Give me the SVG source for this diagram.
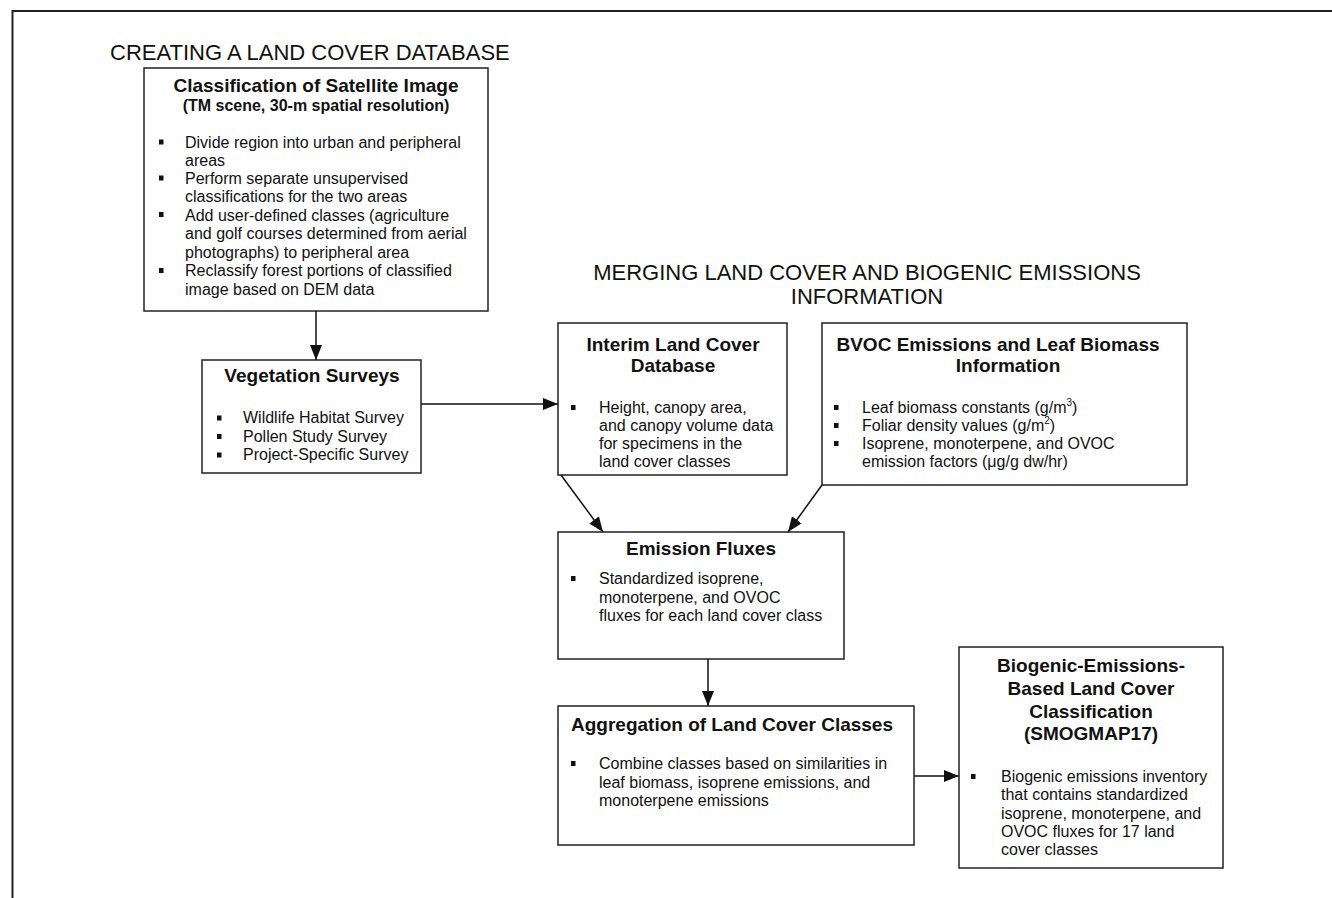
<svg xmlns="http://www.w3.org/2000/svg" width="1332" height="898" viewBox="0 0 1332 898">
<style>
text{font-family:"Liberation Sans",Arial,Helvetica,sans-serif;fill:#111}
.t{font-size:22px}
.h{font-size:19px;font-weight:bold}
.s{font-size:16px;font-weight:bold}
.b{font-size:16px}
.box{fill:#fff;stroke:#222;stroke-width:1.5}
.bl{fill:#111}
.c{stroke:#111;stroke-width:1.5;fill:none}
</style>
<defs>
<marker id="ah" markerUnits="userSpaceOnUse" markerWidth="15" markerHeight="12" viewBox="0 0 15 12" refX="15" refY="6" orient="auto">
<path d="M0,0 L15,6 L0,12 Z" fill="#111"/>
</marker>
</defs>
<rect width="1332" height="898" fill="#fff"/>
<g id="frame">
<path d="M12.5,898 L12.5,11 L1332,11" fill="none" stroke="#222" stroke-width="2"/>
</g>
<g id="titles">
<text class="t" x="110" y="60">CREATING A LAND COVER DATABASE</text>
<text class="t" x="867" y="280" text-anchor="middle">MERGING LAND COVER AND BIOGENIC EMISSIONS</text>
<text class="t" x="867" y="304" text-anchor="middle">INFORMATION</text>
</g>
<g id="classification">
<rect class="box" x="144" y="68" width="344" height="243"/>
<text class="h" x="316" y="92" text-anchor="middle">Classification of Satellite Image</text>
<text class="s" x="316" y="111" text-anchor="middle">(TM scene, 30-m spatial resolution)</text>
<rect class="bl" x="159" y="139.5" width="4.5" height="5"/>
<rect class="bl" x="159" y="175.5" width="4.5" height="5"/>
<rect class="bl" x="159" y="212" width="4.5" height="5"/>
<rect class="bl" x="159" y="268" width="4.5" height="5"/>
<text class="b"><tspan x="185" y="147.7">Divide region into urban and peripheral</tspan><tspan x="185" y="166">areas</tspan><tspan x="185" y="184">Perform separate unsupervised</tspan><tspan x="185" y="202.3">classifications for the two areas</tspan><tspan x="185" y="220.6">Add user-defined classes (agriculture</tspan><tspan x="185" y="239">and golf courses determined from aerial</tspan><tspan x="185" y="257.5">photographs) to peripheral area</tspan><tspan x="185" y="276">Reclassify forest portions of classified</tspan><tspan x="185" y="294.5">image based on DEM data</tspan></text>
</g>
<g id="vegetation">
<rect class="box" x="202" y="360" width="219" height="113"/>
<text class="h" x="312" y="382" text-anchor="middle">Vegetation Surveys</text>
<rect class="bl" x="217" y="415.5" width="4.5" height="5"/>
<rect class="bl" x="217" y="434" width="4.5" height="5"/>
<rect class="bl" x="217" y="452.5" width="4.5" height="5"/>
<text class="b"><tspan x="243" y="423">Wildlife Habitat Survey</tspan><tspan x="243" y="441.5">Pollen Study Survey</tspan><tspan x="243" y="460">Project-Specific Survey</tspan></text>
</g>
<g id="interim">
<rect class="box" x="558" y="323" width="229" height="152"/>
<text class="h" x="673" y="351" text-anchor="middle">Interim Land Cover</text>
<text class="h" x="673" y="372" text-anchor="middle">Database</text>
<rect class="bl" x="571" y="405" width="4.5" height="5"/>
<text class="b"><tspan x="599" y="413">Height, canopy area,</tspan><tspan x="599" y="431">and canopy volume data</tspan><tspan x="599" y="449">for specimens in the</tspan><tspan x="599" y="467">land cover classes</tspan></text>
</g>
<g id="bvoc">
<rect class="box" x="822" y="323" width="365" height="162"/>
<text class="h" x="998" y="351" text-anchor="middle">BVOC Emissions and Leaf Biomass</text>
<text class="h" x="1008" y="372" text-anchor="middle">Information</text>
<rect class="bl" x="834" y="405" width="4.5" height="5"/>
<rect class="bl" x="834" y="423" width="4.5" height="5"/>
<rect class="bl" x="834" y="441" width="4.5" height="5"/>
<text class="b" x="862" y="413">Leaf biomass constants (g/m<tspan dy="-7" font-size="10">3</tspan><tspan dy="7">)</tspan></text>
<text class="b" x="862" y="431">Foliar density values (g/m<tspan dy="-7" font-size="10">2</tspan><tspan dy="7">)</tspan></text>
<text class="b" x="862" y="449">Isoprene, monoterpene, and OVOC</text>
<text class="b" x="862" y="467">emission factors (μg/g  dw/hr)</text>
</g>
<g id="fluxes">
<rect class="box" x="558" y="532" width="286" height="127"/>
<text class="h" x="701" y="555" text-anchor="middle">Emission Fluxes</text>
<rect class="bl" x="571" y="576" width="4.5" height="5"/>
<text class="b"><tspan x="599" y="584">Standardized isoprene,</tspan><tspan x="599" y="602.5">monoterpene, and OVOC</tspan><tspan x="599" y="621">fluxes for each land cover class</tspan></text>
</g>
<g id="aggregation">
<rect class="box" x="558" y="706" width="356" height="139"/>
<text class="h" x="732" y="731" text-anchor="middle">Aggregation of Land Cover Classes</text>
<rect class="bl" x="571" y="761" width="4.5" height="5"/>
<text class="b"><tspan x="599" y="769">Combine classes based on similarities in</tspan><tspan x="599" y="787.5">leaf biomass, isoprene emissions, and</tspan><tspan x="599" y="806">monoterpene emissions</tspan></text>
</g>
<g id="smogmap">
<rect class="box" x="959" y="647" width="264" height="221"/>
<text class="h" text-anchor="middle"><tspan x="1091" y="672">Biogenic-Emissions-</tspan><tspan x="1091" y="695">Based Land Cover</tspan><tspan x="1091" y="717.5">Classification</tspan><tspan x="1091" y="740">(SMOGMAP17)</tspan></text>
<rect class="bl" x="971" y="774" width="4.5" height="5"/>
<text class="b"><tspan x="1001" y="782">Biogenic emissions inventory</tspan><tspan x="1001" y="800">that contains standardized</tspan><tspan x="1001" y="818.5">isoprene, monoterpene, and</tspan><tspan x="1001" y="837">OVOC fluxes for 17 land</tspan><tspan x="1001" y="855">cover classes</tspan></text>
</g>
<g id="connectors">
<line class="c" x1="316" y1="311" x2="316" y2="360" marker-end="url(#ah)"/>
<line class="c" x1="421" y1="404" x2="558" y2="404" marker-end="url(#ah)"/>
<line class="c" x1="561" y1="475" x2="603" y2="532" marker-end="url(#ah)"/>
<line class="c" x1="822" y1="485" x2="788" y2="532" marker-end="url(#ah)"/>
<line class="c" x1="708" y1="659" x2="708" y2="706" marker-end="url(#ah)"/>
<line class="c" x1="914" y1="776" x2="959" y2="776" marker-end="url(#ah)"/>
</g>
</svg>
